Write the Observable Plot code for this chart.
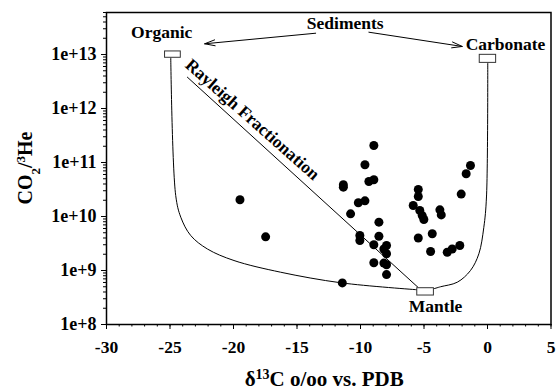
<!DOCTYPE html>
<html>
<head>
<meta charset="utf-8">
<script src="https://cdn.jsdelivr.net/npm/d3@7"></script>
<script src="https://cdn.jsdelivr.net/npm/@observablehq/plot@0.6"></script>
<style>
  body { margin: 0; background: #fff; }
  #chart svg { display: block; }
</style>
</head>
<body>
<div id="chart"></div>
<script>
// Gas samples: carbon isotope composition (per mil vs PDB) and CO2/3He ratio
const d13C = [
  -8.95, -9.65, -9.34, -8.95, -11.35, -11.35, -10.17, -9.65, -10.78, -8.55,
  -10.05, -10.05, -8.55, -8.95, -7.95, -8.16, -7.95, -8.95, -8.16, -7.95,
  -7.95, -11.43, -5.45, -5.45, -5.85, -5.33, -5.14, -5.01, -3.75, -3.64,
  -5.45, -4.35, -4.48, -3.17, -2.78, -2.18, -2.07, -1.68, -1.34, -19.49,
  -17.47
];
const co2He = [
  2.07e11, 9.1e10, 4.45e10, 4.8e10, 3.87e10, 3.5e10, 1.8e10, 1.95e10, 1.12e10, 7.85e9,
  4.45e9, 3.6e9, 4.3e9, 3.0e9, 2.9e9, 2.5e9, 2.04e9, 1.39e9, 1.37e9, 1.28e9,
  8.4e8, 5.9e8, 3.16e10, 2.35e10, 1.6e10, 1.29e10, 1.04e10, 8.8e9, 1.33e10, 1.07e10,
  4.0e9, 4.8e9, 2.25e9, 2.18e9, 2.5e9, 2.9e9, 2.6e10, 6.2e10, 8.8e10, 2.04e10,
  4.2e9
];

// End-member boxes (organic sediment, carbonate sediment, mantle)
const endName = ["Organic", "Carbonate", "Mantle"];
const boxX1 = [-25.39, -0.61, -5.53];
const boxX2 = [-24.15, 0.68, -4.22];
const boxY1 = [8.7e12, 7.0e12, 3.44e8];
const boxY2 = [1.14e13, 9.87e12, 4.7e8];

// Mixing curve: organic sediment - mantle
const mixOrgX = [-24.94, -24.55, -24.15, -23.37, -22.05, -19.96, -16.29, -11.49, -5.53];
const mixOrgY = [8.7e12, 2.45e10, 9.7e9, 4.45e9, 2.5e9, 1.53e9, 9.3e8, 5.9e8, 4.4e8];

// Mixing curve: carbonate sediment - mantle
const mixCarbX = [0.02, -0.08, -0.29, -0.68, -1.34, -2.38, -3.70, -4.22];
const mixCarbY = [7.0e12, 2.3e10, 6.3e9, 2.04e9, 1.0e9, 6.07e8, 5.0e8, 4.6e8];

// Rayleigh fractionation trend
const rayX = [-23.63, -5.48];
const rayY = [3.8e12, 4.9e8];

// Annotation labels
const labelText = ["Organic", "Sediments", "Carbonate", "Mantle"];
const labelX = [-25.65, -11.2, 1.42, -4.09];
const labelY = [2.55e13, 3.75e13, 1.53e13, 2.15e8];

// "Sediments" arrows
const arrowX1 = [-13.53, -9.34];
const arrowY1 = [2.48e13, 2.59e13];
const arrowX2 = [-22.27, -1.99];
const arrowY2 = [1.58e13, 1.41e13];

// Ticks
const xMajor = [-30, -25, -20, -15, -10, -5, 0, 5];
const yMajor = [1e8, 1e9, 1e10, 1e11, 1e12, 1e13];

const xMinor = d3.range(-30, 6, 1);
const yMinor = [];
for (let e = 8; e <= 13; e++) for (let m = 2; m <= 9; m++) {
  const v = m * Math.pow(10, e);
  if (v <= 6e13) yMinor.push(v);
}

const samples = d13C.map((d, i) => ({x: d, y: co2He[i]}));
const boxes = endName.map((n, i) => ({name: n, x1: boxX1[i], x2: boxX2[i], y1: boxY1[i], y2: boxY2[i]}));
const mixOrg = mixOrgX.map((d, i) => ({x: d, y: mixOrgY[i]}));
const mixCarb = mixCarbX.map((d, i) => ({x: d, y: mixCarbY[i]}));
const ray = rayX.map((d, i) => ({x: d, y: rayY[i]}));
const labels = labelText.map((t, i) => ({t, x: labelX[i], y: labelY[i]}));
const arrows = arrowX1.map((d, i) => ({x1: d, y1: arrowY1[i], x2: arrowX2[i], y2: arrowY2[i]}));

const font = "'Liberation Serif', 'Times New Roman', serif";

const chart = Plot.plot({
  width: 557,
  height: 392,
  marginLeft: 106,
  marginRight: 6.5,
  marginTop: 12,
  marginBottom: 68,
  style: {fontFamily: font, fontWeight: "bold", fontSize: "17px", color: "black", background: "white", overflow: "visible"},
  x: {domain: [-30, 5], label: null},
  y: {type: "log", domain: [1e8, 6e13], label: null},
  marks: [
    Plot.axisX({ticks: xMinor, tickSize: 2.5, text: null, label: null, strokeWidth: 1}),
    Plot.axisX({ticks: xMajor, tickSize: 5, tickPadding: 11, tickFormat: d => String(d), fontSize: 17.5, fontWeight: "bold", label: null, strokeWidth: 1}),
    Plot.axisY({ticks: yMinor, tickSize: 3, text: null, label: null, strokeWidth: 1}),
    Plot.axisY({ticks: yMajor, tickSize: 5, tickPadding: 5, tickFormat: d3.format(".0e"), fontSize: 18, fontWeight: "bold", label: null, strokeWidth: 1}),
    Plot.line(mixOrg, {x: "x", y: "y", curve: "catmull-rom", stroke: "black", strokeWidth: 1}),
    Plot.line(mixCarb, {x: "x", y: "y", curve: "catmull-rom", stroke: "black", strokeWidth: 1}),
    Plot.line(ray, {x: "x", y: "y", stroke: "black", strokeWidth: 1}),
    Plot.rect(boxes, {x1: "x1", x2: "x2", y1: "y1", y2: "y2", fill: "white", stroke: "#333", strokeWidth: 1}),
    Plot.dot(samples, {x: "x", y: "y", r: 4.5, fill: "black", stroke: "none"}),
    Plot.arrow(arrows, {x1: "x1", y1: "y1", x2: "x2", y2: "y2", stroke: "black", strokeWidth: 1, headLength: 16, headAngle: 32}),
    Plot.text(labels, {x: "x", y: "y", text: "t", fontSize: 17.5, fontWeight: "bold", fill: "black"}),
    Plot.text(["Rayleigh Fractionation"], {x: () => -18.51, y: () => 6.25e11, text: d => d, rotate: 41.6, fontSize: 17.5, fontWeight: "bold", fill: "black"}),
    Plot.frame({stroke: "black", strokeWidth: 1.5})
  ]
});

document.getElementById("chart").appendChild(chart);

// Axis titles with sub/superscripts
const svg = d3.select(chart);
const xr = chart.scale("x").range;
const yr = chart.scale("y").range;
const cx = (xr[0] + xr[1]) / 2;
const cy = (yr[0] + yr[1]) / 2;

const xt = svg.append("text")
  .attr("x", cx - 4).attr("y", 386)
  .attr("text-anchor", "middle")
  .style("font-family", font).style("font-weight", "bold").style("font-size", "21px").attr("fill", "black");
xt.append("tspan").text("δ");
xt.append("tspan").attr("baseline-shift", "super").style("font-size", "14px").text("13");
xt.append("tspan").text("C o/oo vs. PDB");

const yt = svg.append("text")
  .attr("transform", `translate(32,${cy}) rotate(-90)`)
  .attr("text-anchor", "middle")
  .style("font-family", font).style("font-weight", "bold").style("font-size", "20px").attr("fill", "black");
yt.append("tspan").text("CO");
yt.append("tspan").attr("baseline-shift", "sub").style("font-size", "13px").text("2");
yt.append("tspan").text("/");
yt.append("tspan").attr("baseline-shift", "super").style("font-size", "13px").text("3");
yt.append("tspan").text("He");
</script>
</body>
</html>
